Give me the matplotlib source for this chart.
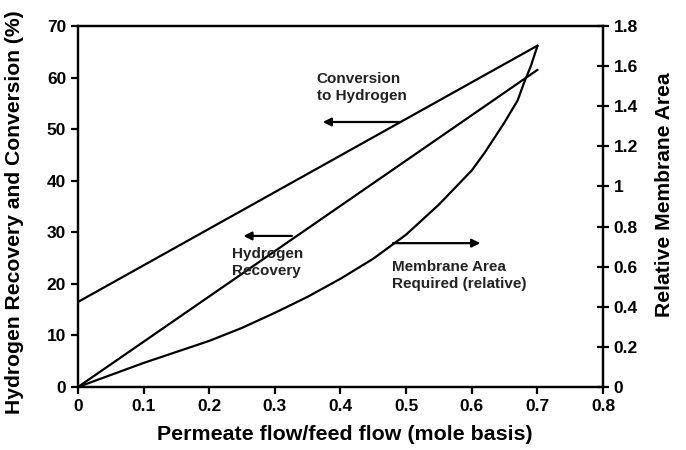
import matplotlib
matplotlib.use('Agg')
import matplotlib.pyplot as plt
from matplotlib.ticker import FormatStrFormatter

plt.rcParams['font.family'] = ['Liberation Sans', 'DejaVu Sans']
plt.rcParams['font.weight'] = 'bold'

# permeate flow / feed flow
flow = [0, 0.7]
# conversion to hydrogen (%), left axis
conversion = [16.5, 66.2]
# hydrogen recovery (%), left axis
recovery = [0, 61.5]

# membrane area required (relative), right axis
area_flow = [0, 0.05, 0.1, 0.15, 0.2, 0.25, 0.3, 0.35, 0.4, 0.45, 0.5,
             0.55, 0.6, 0.62, 0.65, 0.67, 0.68, 0.69, 0.7]
area = [0, 0.06, 0.12, 0.175, 0.23, 0.295, 0.37, 0.45, 0.54, 0.64, 0.76,
        0.91, 1.08, 1.17, 1.32, 1.43, 1.52, 1.60, 1.70]

fig = plt.figure(figsize=(6.86, 4.5), dpi=100)
ax = fig.add_axes([0.1137, 0.14, 0.7653, 0.802])
ax2 = ax.twinx()

ax.plot(flow, conversion, color='black', lw=1.6)
ax.plot(flow, recovery, color='black', lw=1.6)
ax2.plot(area_flow, area, color='black', lw=1.6)

ax.set_xlim(0, 0.8)
ax.set_ylim(0, 70)
ax2.set_ylim(0, 1.8)
ax.set_xticks([0, 0.1, 0.2, 0.3, 0.4, 0.5, 0.6, 0.7, 0.8])
ax.set_yticks(range(0, 71, 10))
ax2.set_yticks([0, 0.2, 0.4, 0.6, 0.8, 1.0, 1.2, 1.4, 1.6, 1.8])
ax.xaxis.set_major_formatter(FormatStrFormatter('%g'))
ax2.yaxis.set_major_formatter(FormatStrFormatter('%g'))

for a in (ax, ax2):
    for s in a.spines.values():
        s.set_linewidth(1.6)
ax.tick_params(axis='both', direction='out', length=5, width=1.6, labelsize=12.5)
ax2.tick_params(axis='y', direction='inout', length=8, width=1.6, labelsize=12.5)
for lbl in ax.get_xticklabels() + ax.get_yticklabels() + ax2.get_yticklabels():
    lbl.set_fontweight('bold')

ax.set_xlabel('Permeate flow/feed flow (mole basis)', fontsize=15.4, fontweight='bold')
ax.set_ylabel('Hydrogen Recovery and Conversion (%)', fontsize=15.2, fontweight='bold')
ax2.set_ylabel('Relative Membrane Area', fontsize=15.2, fontweight='bold')
# label centres as placed in the original figure
ax.xaxis.set_label_coords(0.508, -0.105)
ax.yaxis.set_label_coords(-0.103, 0.485)
ax2.yaxis.set_label_coords(1.1, 0.532)

arrow = dict(arrowstyle='-|>', color='black', lw=1.6, mutation_scale=12, shrinkA=0, shrinkB=0)
ax.annotate('', xy=(0.373, 51.4), xytext=(0.491, 51.4), arrowprops=arrow)
ax.annotate('', xy=(0.252, 29.3), xytext=(0.326, 29.3), arrowprops=arrow)
ax.annotate('', xy=(0.613, 27.9), xytext=(0.480, 27.9), arrowprops=arrow)

txt = dict(fontsize=11, fontweight='bold', color='#222222', ha='left', va='center', linespacing=1.3)
ax.text(0.364, 58.1, 'Conversion\nto Hydrogen', **txt)
ax.text(0.234, 24.2, 'Hydrogen\nRecovery', **txt)
ax.text(0.478, 21.6, 'Membrane Area\nRequired (relative)', **txt)

fig.savefig('out.png', dpi=100)
